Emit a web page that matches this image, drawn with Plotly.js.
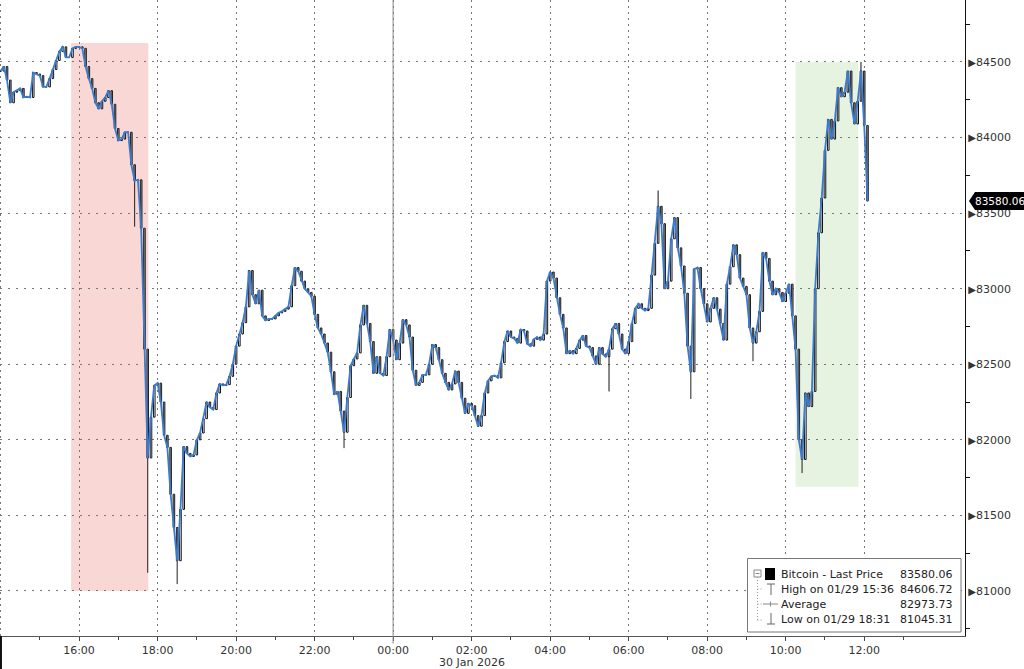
<!DOCTYPE html>
<html>
<head>
<meta charset="utf-8">
<script src="https://cdn.plot.ly/plotly-3.0.1.min.js"></script>
<style>
html,body{margin:0;padding:0;background:#fff;}
#chart{width:1024px;height:669px;}
</style>
</head>
<body>
<div id="chart"></div>
<script>
// ---------------- DATA ----------------
const seriesName = "Bitcoin - Last Price";
const stepMinutes = 5;                 // 5-minute closes from 29 Jan 14:00
const prices = [
  84440, 84470, 84380, 84230, 84300, 84310, 84325, 84265, 84270, 84265,
  84430, 84420, 84410, 84335, 84335, 84390, 84450, 84510, 84570, 84600,
  84530, 84530, 84590, 84600, 84600, 84590, 84470, 84390, 84325, 84230,
  84190, 84240, 84265, 84310, 84220, 84060, 83980, 83990, 84035, 84035,
  83820, 83715, 83720, 83400, 82600, 81880, 82150, 82360, 82375, 82250,
  82030, 81950, 81640, 81420, 81200, 81540, 81955, 81910, 81890, 81900,
  82000, 82045, 82140, 82250, 82215, 82200, 82310, 82370, 82360, 82365,
  82420, 82500, 82620, 82700, 82775, 82880, 83120, 82960, 82900, 82990,
  82820, 82790, 82800, 82800, 82820, 82840, 82850, 82865, 82880, 83020,
  83140, 83115, 83050, 83000, 82975, 82950, 82830, 82740, 82700, 82640,
  82580, 82450, 82300, 82320, 82190, 82050, 82280, 82490, 82535, 82575,
  82760, 82890, 82770, 82650, 82440, 82550, 82440, 82425, 82550, 82730,
  82660, 82530, 82640, 82795, 82760, 82680, 82460, 82360, 82380, 82430,
  82430, 82500, 82630, 82610, 82530, 82440, 82380, 82330, 82370, 82455,
  82380, 82275, 82175, 82240, 82225, 82160, 82090, 82160, 82310, 82390,
  82420, 82425, 82410, 82510, 82650, 82720, 82680, 82670, 82640, 82730,
  82720, 82635, 82620, 82665, 82680, 82660, 82700, 83050, 83110, 83070,
  82940, 82830, 82740, 82570, 82590, 82570, 82605, 82660, 82690, 82620,
  82610, 82555, 82500, 82610, 82568, 82550, 82600, 82735, 82770, 82700,
  82600, 82570, 82650, 82770, 82870, 82900, 82870, 82855, 82870, 83090,
  83300, 83545, 83430, 83000, 83050, 83330, 83470, 83270, 83150, 82970,
  82620, 82450, 83130, 83140, 83000, 82900, 82780, 82870, 82940, 82865,
  82770, 82660, 83030, 83145, 83290, 83225, 83070, 83015, 82960, 82740,
  82640, 82715, 82850, 83240, 83200, 83050, 82960, 83000, 82975, 82915,
  82970, 83030, 82820, 82600, 82000, 81870, 82310, 82220, 82320, 83000,
  83370, 83600, 83915, 84120, 83990, 84110, 84330, 84270, 84300, 84440,
  84230, 84090, 84240, 84440, 84080, 83580.06
];
// intrabar extremes visible as wicks
const highWickTimes  = ["2026-01-29 15:35", "2026-01-30 06:45", "2026-01-30 11:55"];
const highWickValues = [84606.72, 83650, 84500];
const lowWickTimes   = ["2026-01-29 17:25", "2026-01-29 17:45", "2026-01-29 18:30", "2026-01-29 22:45", "2026-01-30 05:30", "2026-01-30 07:35", "2026-01-30 09:10", "2026-01-30 10:25"];
const lowWickValues  = [83410, 81120, 81045.31, 81945, 82320, 82270, 82520, 81780];

// summary box
const lastPrice = 83580.06;
const highLabel = "High on 01/29 15:36", highValue = 84606.72;
const avgLabel = "Average", avgValue = 82973.73;
const lowLabel = "Low on 01/29 18:31", lowValue = 81045.31;

// highlighted windows
const shadeStart = ["2026-01-29 15:48", "2026-01-30 10:15"];
const shadeEnd   = ["2026-01-29 17:46", "2026-01-30 11:51"];
const shadeLow   = [81000, 81690];
const shadeHigh  = [84625, 84500];
const shadeColors = ["rgb(249,215,213)", "rgb(230,243,225)"];

const xTickVals = ["2026-01-29 16:00","2026-01-29 18:00","2026-01-29 20:00","2026-01-29 22:00",
  "2026-01-30 00:00","2026-01-30 02:00","2026-01-30 04:00","2026-01-30 06:00",
  "2026-01-30 08:00","2026-01-30 10:00","2026-01-30 12:00"];
const xTickText = ["16:00","18:00","20:00","22:00","00:00","02:00","04:00","06:00","08:00","10:00","12:00"];
const xMinorVals = ["2026-01-29 15:00","2026-01-29 17:00","2026-01-29 19:00","2026-01-29 21:00",
  "2026-01-29 23:00","2026-01-30 01:00","2026-01-30 03:00","2026-01-30 05:00",
  "2026-01-30 07:00","2026-01-30 09:00","2026-01-30 11:00","2026-01-30 13:00"];
const yTickVals = [81000, 81500, 82000, 82500, 83000, 83500, 84000, 84500];
const dateLabel = "30 Jan 2026";
const dateLabelAt = "2026-01-30 02:00";
const dayBreak = "2026-01-30 00:00";
const firstGrid = "2026-01-29 14:00";

// ---------------- BUILD ----------------
function pad(n){return (n<10?'0':'')+n;}
function fmt(d){return d.getUTCFullYear()+'-'+pad(d.getUTCMonth()+1)+'-'+pad(d.getUTCDate())+' '+pad(d.getUTCHours())+':'+pad(d.getUTCMinutes());}
const t0 = Date.UTC(2026,0,29,14,0);
const times = prices.map((_,i)=>fmt(new Date(t0 + i*stepMinutes*60000)));

const opens = prices.map((p,i)=> i===0 ? p : prices[i-1]);
const highs = prices.map((p,i)=> Math.max(p, opens[i]));
const lows  = prices.map((p,i)=> Math.min(p, opens[i]));
highWickTimes.forEach((t,k)=>{const i=times.indexOf(t); if(i>=0) highs[i]=Math.max(highs[i],highWickValues[k]);});
lowWickTimes.forEach((t,k)=>{const i=times.indexOf(t); if(i>=0) lows[i]=Math.min(lows[i],lowWickValues[k]);});

const FONT = "DejaVu Sans";
const PW = 965, PH = 636; // plot area in px
const px = x => x/PW;
const py = y => 1 - y/PH;

const traces = [
  {type:'candlestick', x:times, open:opens, high:highs, low:lows, close:prices,
   increasing:{line:{color:'#111', width:1}, fillcolor:'#ffffff'},
   decreasing:{line:{color:'#222', width:1}, fillcolor:'#8a8a8a'},
   whiskerwidth:0, hoverinfo:'skip', showlegend:false},
  {type:'scatter', mode:'lines', x:times, y:prices, name:seriesName,
   line:{color:'#3b7bd0', width:1.8}, hoverinfo:'skip', showlegend:false}
];

const shapes = [];
shadeStart.forEach((s,k)=>shapes.push({type:'rect', xref:'x', yref:'y', x0:s, x1:shadeEnd[k], y0:shadeLow[k], y1:shadeHigh[k], fillcolor:shadeColors[k], line:{width:0}, layer:'below'}));
// first (left edge) dotted grid line
shapes.push({type:'line', xref:'x', yref:'paper', x0:firstGrid, x1:firstGrid, y0:0, y1:1, line:{color:'#777', width:1, dash:'2px,4px'}, layer:'below'});
// day separator
shapes.push({type:'line', xref:'x', yref:'paper', x0:dayBreak, x1:dayBreak, y0:-0.012, y1:1, line:{color:'#888', width:1}});
// left black tick under axis
shapes.push({type:'line', xref:'paper', yref:'paper', x0:0.001, x1:0.001, y0:0, y1:py(669), line:{color:'#111', width:2}});
// last price tag
shapes.push({type:'path', xref:'paper', yref:'y', xsizemode:'pixel', ysizemode:'pixel', xanchor:1, yanchor:lastPrice,
  path:'M4,0L10,9L70,9L70,-9L10,-9Z', fillcolor:'#000', line:{width:0}, layer:'above'});
// summary box
shapes.push({type:'rect', xref:'paper', yref:'paper', x0:px(747.5), x1:px(961), y0:py(632), y1:py(558.5), fillcolor:'#fff', line:{color:'#777', width:1}, layer:'above'});
// tree icon box
shapes.push({type:'rect', xref:'paper', yref:'paper', x0:px(754), x1:px(761), y0:py(577), y1:py(570), fillcolor:'#fff', line:{color:'#888', width:1}, layer:'above'});
shapes.push({type:'line', xref:'paper', yref:'paper', x0:px(755.5), x1:px(759.5), y0:py(573.5), y1:py(573.5), line:{color:'#888', width:1}, layer:'above'});
// tree connector
shapes.push({type:'line', xref:'paper', yref:'paper', x0:px(757.5), x1:px(757.5), y0:py(577), y1:py(620), line:{color:'#999', width:1, dash:'1px,2px'}, layer:'above'});
[589,604,620].forEach(y=>shapes.push({type:'line', xref:'paper', yref:'paper', x0:px(757.5), x1:px(763), y0:py(y), y1:py(y), line:{color:'#999', width:1, dash:'1px,2px'}, layer:'above'}));
// black square
shapes.push({type:'rect', xref:'paper', yref:'paper', x0:px(765), x1:px(775), y0:py(580), y1:py(568), fillcolor:'#000', line:{width:0}, layer:'above'});
// high icon
shapes.push({type:'line', xref:'paper', yref:'paper', x0:px(767), x1:px(775), y0:py(584), y1:py(584), line:{color:'#666', width:1}, layer:'above'});
shapes.push({type:'line', xref:'paper', yref:'paper', x0:px(771), x1:px(771), y0:py(584), y1:py(595), line:{color:'#666', width:1}, layer:'above'});
// average icon
shapes.push({type:'line', xref:'paper', yref:'paper', x0:px(763), x1:px(778), y0:py(604), y1:py(604), line:{color:'#888', width:1}, layer:'above'});
shapes.push({type:'line', xref:'paper', yref:'paper', x0:px(770.5), x1:px(770.5), y0:py(601.5), y1:py(606.5), line:{color:'#888', width:1}, layer:'above'});
// low icon
shapes.push({type:'line', xref:'paper', yref:'paper', x0:px(771), x1:px(771), y0:py(613), y1:py(624), line:{color:'#666', width:1}, layer:'above'});
shapes.push({type:'line', xref:'paper', yref:'paper', x0:px(767), x1:px(775), y0:py(624), y1:py(624), line:{color:'#666', width:1}, layer:'above'});

const rowsY = [574, 589, 604.5, 619.5];
const rowLabels = [seriesName, highLabel, avgLabel, lowLabel];
const rowValues = [lastPrice, highValue, avgValue, lowValue];
const annotations = [];
rowLabels.forEach((lab,k)=>{
  annotations.push({xref:'paper', yref:'paper', x:px(779), y:py(rowsY[k]), xanchor:'left', yanchor:'middle', text:lab, showarrow:false, font:{family:FONT, size:11, color:'#222'}});
  annotations.push({xref:'paper', yref:'paper', x:px(955), y:py(rowsY[k]), xanchor:'right', yanchor:'middle', text:rowValues[k].toFixed(2), showarrow:false, font:{family:FONT, size:11, color:'#222'}});
});
annotations.push({xref:'x', yref:'paper', x:dateLabelAt, y:py(662), xanchor:'center', yanchor:'middle', text:dateLabel, showarrow:false, font:{family:FONT, size:11, color:'#333'}});
annotations.push({xref:'paper', yref:'y', x:1, xshift:8, y:lastPrice, xanchor:'left', yanchor:'middle', text:lastPrice.toFixed(2), showarrow:false, font:{family:FONT, size:10.5, color:'#fff'}});

const layout = {
  width:1024, height:669,
  margin:{l:0, r:59, t:0, b:33, pad:0},
  paper_bgcolor:'#ffffff', plot_bgcolor:'#ffffff',
  showlegend:false,
  font:{family:FONT, size:11, color:'#333'},
  xaxis:{type:'date', range:['2026-01-29 13:59:15','2026-01-30 14:34'],
    tickmode:'array', tickvals:xTickVals, ticktext:xTickText,
    ticks:'outside', ticklen:4, tickcolor:'#444', tickfont:{family:FONT, size:11, color:'#333'},
    showline:true, linecolor:'#555', linewidth:1, mirror:false,
    showgrid:true, gridcolor:'#777', griddash:'2px,4px', gridwidth:1, zeroline:false,
    rangeslider:{visible:false}, fixedrange:true,
    minor:{tickmode:'array', tickvals:xMinorVals, ticks:'outside', ticklen:3, tickcolor:'#444', showgrid:false}},
  yaxis:{side:'right', range:[80702, 84910],
    tickmode:'array', tickvals:yTickVals,
    ticktext:yTickVals.map(v=>'<span style="font-size:10px">▶</span>'+v),
    ticks:'', tickfont:{family:FONT, size:11, color:'#333'},
    showline:true, linecolor:'#111', linewidth:1,
    showgrid:true, gridcolor:'#777', griddash:'2px,6px', gridwidth:1, zeroline:false, fixedrange:true,
    minor:{tick0:80750, dtick:500, ticks:'outside', ticklen:4, tickcolor:'#111', showgrid:false}},
  shapes:shapes,
  annotations:annotations
};

Plotly.newPlot('chart', traces, layout, {staticPlot:true, displayModeBar:false});
</script>
</body>
</html>
